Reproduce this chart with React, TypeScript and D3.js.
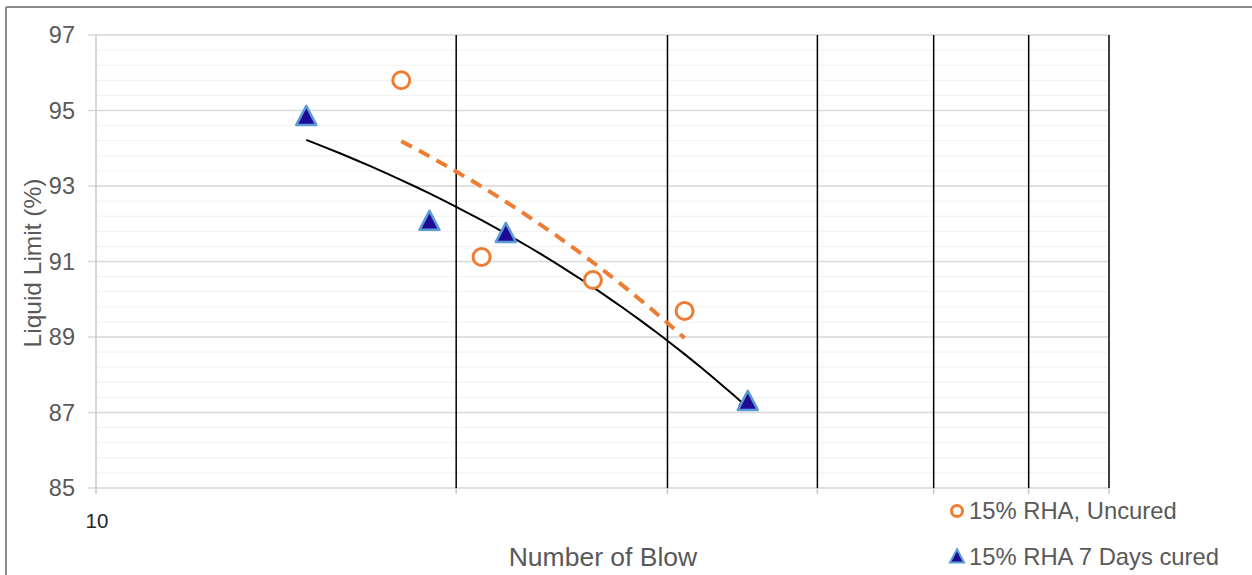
import React from "react";
import * as d3 from "d3";

const uncuredBlows = [18, 21, 26, 31];
const uncuredLL = [95.8, 91.12, 90.51, 89.69];
const curedBlows = [15, 19, 22, 35];
const curedLL = [94.83, 92.05, 91.73, 87.28];
const yTicks = [85, 87, 89, 91, 93, 95, 97];
const xGrid = [20, 30, 40, 50, 60, 70];
const seriesNames = ["15% RHA, Uncured", "15% RHA 7 Days cured"];

const W = 1252, H = 575;
const M = { left: 95, right: 1109, top: 35, bottom: 488 };
const FONT = "'Liberation Sans', Arial, sans-serif";

function linreg(xs: number[], ys: number[]) {
  const mx = d3.mean(xs)!, my = d3.mean(ys)!;
  let sxy = 0, sxx = 0;
  xs.forEach((x, i) => { sxy += (x - mx) * (ys[i] - my); sxx += (x - mx) ** 2; });
  const b = sxy / sxx;
  return (x: number) => my + b * (x - mx);
}

export default function App() {
  const x = d3.scaleLog().domain([10, 70]).range([M.left, M.right]);
  const y = d3.scaleLinear().domain([85, 97]).range([M.bottom, M.top]);
  const minor = d3.range(85, 97.001, 0.4);
  const trend = (xs: number[], ys: number[]) => {
    const f = linreg(xs, ys);
    const x0 = d3.min(xs)!, x1 = d3.max(xs)!;
    const pts = d3.range(0, 41).map(i => x0 + (x1 - x0) * i / 40);
    return d3.line<number>().x(v => x(v)).y(v => y(f(v)))(pts)!;
  };
  const tri = (cx: number, cy: number, s = 10) =>
    `M${cx},${cy - s * 1.1} L${cx + s},${cy + s * 0.8} L${cx - s},${cy + s * 0.8} Z`;

  return (
    <svg width={W} height={H} style={{ position: "absolute", left: 0, top: 0, background: "#fff" }} fontFamily={FONT}>
      <defs>
        <marker id="arr" viewBox="0 0 10 10" refX="9" refY="5" markerWidth="5" markerHeight="5" orient="auto">
          <path d="M0,0 L10,5 L0,10 Z" fill="#000" />
        </marker>
      </defs>
      {/* outer frame */}
      <line x1={6} y1={7} x2={W} y2={7} stroke="#8c8c8c" strokeWidth={2} />
      <line x1={6} y1={7} x2={6} y2={H} stroke="#8c8c8c" strokeWidth={2} />
      {/* minor grid */}
      {minor.map((v, i) => (
        <line key={"mn" + i} x1={M.left} x2={M.right} y1={y(v)} y2={y(v)} stroke="#f0f0f0" strokeWidth={1} />
      ))}
      {/* major grid */}
      {yTicks.map(v => (
        <line key={"mj" + v} x1={M.left - 7} x2={M.right} y1={y(v)} y2={y(v)} stroke="#d9d9d9" strokeWidth={1.5} />
      ))}
      {/* vertical grid */}
      {xGrid.map(v => (
        <g key={"vg" + v}>
          <line x1={x(v)} x2={x(v)} y1={M.top} y2={M.bottom} stroke="#000" strokeWidth={1.5} />
          <line x1={x(v)} x2={x(v)} y1={M.bottom} y2={M.bottom + 6} stroke="#c8c8c8" strokeWidth={1.5} />
        </g>
      ))}
      {/* y axis */}
      <line x1={M.left + 1} x2={M.left + 1} y1={M.top} y2={M.bottom + 6} stroke="#c8c8c8" strokeWidth={1.5} />
      {yTicks.map(v => (
        <text key={"yt" + v} x={75} y={y(v) + 8} textAnchor="end" fontSize={23.5} fill="#595959">{v}</text>
      ))}
      <text x={97} y={528} textAnchor="middle" fontSize={20.5} fill="#262626">10</text>
      {/* trendlines */}
      <path d={trend(uncuredBlows, uncuredLL)} fill="none" stroke="#ED7D31" strokeWidth={4} strokeDasharray="12,8" />
      <path d={trend(curedBlows, curedLL)} fill="none" stroke="#000" strokeWidth={2} markerEnd="url(#arr)" />
      {/* points */}
      {uncuredBlows.map((b, i) => (
        <circle key={"u" + i} cx={x(b)} cy={y(uncuredLL[i])} r={8.5} fill="#fff" stroke="#ED7D31" strokeWidth={3} />
      ))}
      {curedBlows.map((b, i) => (
        <path key={"c" + i} d={tri(x(b), y(curedLL[i]))} fill="#1F0A96" stroke="#5B9BD5" strokeWidth={2.5} strokeLinejoin="round" />
      ))}
      {/* axis titles */}
      <text x={603} y={566} textAnchor="middle" fontSize={26.5} fill="#595959">Number of Blow</text>
      <text transform={`translate(41,263) rotate(-90)`} textAnchor="middle" fontSize={24.5} fill="#595959">Liquid Limit (%)</text>
      {/* legend */}
      <circle cx={957} cy={511} r={5.5} fill="#fff" stroke="#ED7D31" strokeWidth={3} />
      <text x={969} y={519} fontSize={23.8} fill="#595959">{seriesNames[0]}</text>
      <path d={tri(957, 557, 7)} fill="#1F0A96" stroke="#5B9BD5" strokeWidth={2} />
      <text x={969} y={565} fontSize={23.8} fill="#595959">{seriesNames[1]}</text>
    </svg>
  );
}
